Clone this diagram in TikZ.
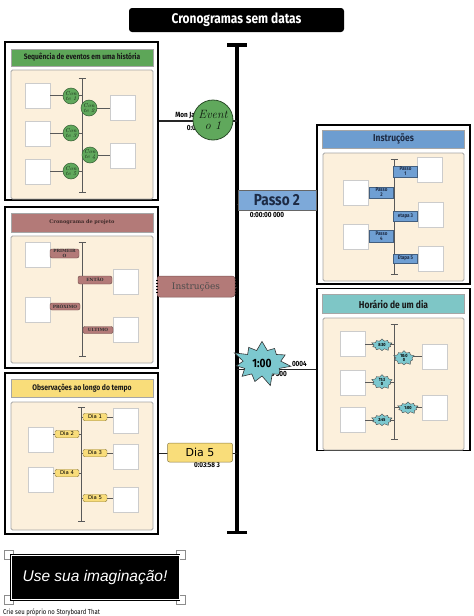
\documentclass[tikz,border=0pt]{standalone}
\usepackage{fontspec}
\newfontfamily\headfont[FakeStretch=0.85]{Fira Sans}
\newfontfamily\slabfont{DejaVu Serif}
\newfontfamily\dvsans{DejaVu Sans}
\newfontfamily\libsans{Liberation Sans}
\usetikzlibrary{shapes.geometric, shapes.symbols, arrows.meta, positioning}
\definecolor{grnh}{HTML}{5DA658}
\definecolor{grn}{HTML}{60A85C}
\definecolor{creme}{HTML}{FCF0DC}
\definecolor{mauve}{HTML}{B37A78}
\definecolor{yel}{HTML}{F9DD7A}
\definecolor{bluh}{HTML}{6D9DD0}
\definecolor{blu}{HTML}{6F9FD3}
\definecolor{blu2}{HTML}{7DA9D9}
\definecolor{tealh}{HTML}{7EC6C6}
\definecolor{tea}{HTML}{7CC8CF}
\definecolor{navy}{HTML}{1D2B45}
\tikzstyle{headline} = [rectangle, rounded corners=3pt, fill=black, minimum width=215pt, minimum height=24pt, text=white, font=\headfont\bfseries\fontsize{14}{14}\selectfont]
\tikzstyle{panel} = [rectangle, draw=black, line width=1.2pt, fill=white, minimum width=153pt, inner sep=0pt]
\tikzstyle{header} = [rectangle, draw=black!35, line width=0.6pt, minimum width=142pt, inner sep=0pt, text=black!90]
\tikzstyle{cream} = [rectangle, rounded corners=1.5pt, draw=black!35, fill=creme, line width=0.8pt, minimum width=142pt, inner sep=0pt]
\tikzstyle{photo} = [rectangle, draw=black!20, fill=white, line width=0.8pt, minimum width=25pt, minimum height=25pt, inner sep=0pt]
\tikzstyle{tline} = [line width=0.8pt, draw=black!65, arrows={Bar[width=7pt]-Bar[width=7pt]}]
\tikzstyle{spoke} = [line width=0.8pt, draw=black!65]
\tikzstyle{conte} = [circle, fill=grn, draw=grn!55!black, line width=0.5pt, minimum size=16pt, inner sep=0pt, align=center, text=grn!20!black, font=\itshape\fontsize{5.5}{5}\selectfont]
\tikzstyle{stage} = [rectangle, rounded corners=2pt, fill=mauve, draw=mauve!60!black, line width=0.4pt, inner sep=0.5pt, align=center, text=black!80, font=\slabfont\bfseries\fontsize{4.3}{4.3}\selectfont]
\tikzstyle{daytag} = [rectangle, rounded corners=1.5pt, fill=yel, draw=yel!60!black, line width=0.4pt, minimum width=24pt, minimum height=7.5pt, inner sep=0pt, font=\dvsans\fontsize{5.3}{5.3}\selectfont]
\tikzstyle{steptag} = [rectangle, fill=blu, draw=blu!60!black, line width=0.4pt, minimum width=24pt, inner sep=0.3pt, align=center, text=navy, font=\headfont\bfseries\fontsize{5.3}{5}\selectfont]
\tikzstyle{hourburst} = [starburst, starburst points=10, starburst point height=3pt, fill=tea, draw=black!70, line width=0.4pt, minimum width=22pt, minimum height=14pt, inner sep=0pt, align=center, font=\headfont\bfseries\fontsize{4.5}{4.2}\selectfont]
\tikzstyle{axisline} = [line width=3.5pt, arrows={Bar[width=20pt]-Bar[width=20pt]}]
\tikzstyle{link} = [line width=1.2pt, draw=black!85]
\tikzstyle{stamp} = [inner sep=0pt, font=\headfont\bfseries\fontsize{7.5}{7.5}\selectfont]
\tikzstyle{event} = [circle, fill=grn, draw=grn!45!black, line width=0.8pt, minimum size=40pt, inner sep=0pt, align=center, text=grn!15!black, font=\itshape\fontsize{12}{11}\selectfont]
\tikzstyle{scroll} = [rectangle, rounded corners=3pt, fill=mauve, draw=mauve!70!black, line width=0.5pt, minimum width=78pt, minimum height=21pt, text=black!70, font=\slabfont\fontsize{9}{9}\selectfont]
\tikzstyle{banner} = [rectangle, rounded corners=2pt, fill=yel, draw=yel!55!black, line width=0.5pt, minimum width=65pt, minimum height=19pt, font=\dvsans\fontsize{11}{11}\selectfont]
\tikzstyle{stepbox} = [rectangle, fill=blu2, draw=black!60, line width=0.6pt, minimum width=78pt, minimum height=20pt, inner sep=0pt, text=navy, font=\headfont\bfseries\fontsize{16}{16}\selectfont]
\tikzstyle{bigburst} = [starburst, starburst points=11, starburst point height=12pt, fill=tea, draw=black!80, line width=0.6pt, minimum width=62pt, minimum height=50pt, inner sep=0pt, font=\headfont\bfseries\fontsize{12}{12}\selectfont]
\tikzstyle{imagine} = [rectangle, fill=black, draw=black, line width=0.7pt, double=white, double distance=1pt, minimum width=168pt, minimum height=44pt, text=white, font=\libsans\itshape\fontsize{15.5}{15.5}\selectfont]
\tikzstyle{cornerbox} = [rectangle, fill=white, draw=black!45, line width=1.5pt, minimum size=9pt, inner sep=0pt]

\begin{document}
\begin{tikzpicture}[x=1pt,y=-1pt]
      \useasboundingbox (0,0) rectangle (474,616);
      \node (ti) [headline] at (236.5,20) {Cronogramas sem datas};
      \coordinate (atop) at (237,43);
      \coordinate (abot) at (237,534);

      \node (p1) [panel, minimum height=158pt] at (81.5,121) {};
      \node (h1) [header, fill=grnh, minimum height=17pt, font=\headfont\bfseries\fontsize{7.8}{7.8}\selectfont] at (82,57.5) {Sequência de eventos em uma história};
      \node (c1) [cream, minimum height=129pt] at (82,134.5) {};
      \coordinate (t1a) at (82,78);
      \coordinate (t1b) at (82,193);
      \draw [tline] (t1a) -- (t1b);
      \node (b11) [photo] at (37.5,95.5) {};
      \node (b12) [photo] at (37.5,133.5) {};
      \node (b13) [photo] at (37.5,171.5) {};
      \node (b14) [photo] at (122.5,108) {};
      \node (b15) [photo] at (122.5,155.5) {};
      \draw [spoke] (b11.east) -- (b11.east -| t1a);
      \draw [spoke] (b12.east) -- (b12.east -| t1a);
      \draw [spoke] (b13.east) -- (b13.east -| t1a);
      \draw [spoke] (b14.west) -- (b14.west -| t1a);
      \draw [spoke] (b15.west) -- (b15.west -| t1a);
      \node (e1) [conte] at (71,96) {Con\\te 1};
      \node (e2) [conte] at (89,108) {Con\\te 2};
      \node (e3) [conte] at (71,133) {Con\\te 3};
      \node (e4) [conte] at (90,155) {Con\\te 4};
      \node (e5) [conte] at (71,171) {Con\\te 5};

      \node (p2) [panel, minimum height=161pt] at (81.5,287.5) {};
      \node (h2) [header, fill=mauve, minimum height=19pt, text=mauve!35!black, font=\slabfont\bfseries\fontsize{5}{5}\selectfont] at (82,222.5) {Cronograma de projeto};
      \node (c2) [cream, minimum height=127pt] at (82,299.5) {};
      \coordinate (t2a) at (82,242);
      \coordinate (t2b) at (82,357);
      \draw [tline] (t2a) -- (t2b);
      \node (b21) [photo] at (37.5,254.5) {};
      \node (b22) [photo] at (37.5,309.5) {};
      \node (b23) [photo] at (125.5,281.5) {};
      \node (b24) [photo] at (125.5,330) {};
      \node (g1) [stage, minimum width=29pt, minimum height=9pt] at (64.5,253.5) {PRIMEIR\\O};
      \node (g2) [stage, minimum width=34pt, minimum height=8pt] at (95,280) {ENTÃO};
      \node (g3) [stage, minimum width=30pt, minimum height=7pt] at (65,306.5) {PRÓXIMO};
      \node (g4) [stage, minimum width=30pt, minimum height=7pt] at (98,330) {ULTIMO};

      \node (p3) [panel, minimum height=161pt] at (81.5,453.5) {};
      \node (h3) [header, fill=yel, minimum height=18pt, font=\headfont\bfseries\fontsize{8}{8}\selectfont] at (82,388) {Observações ao longo do tempo};
      \node (c3) [cream, minimum height=128pt] at (82,466) {};
      \coordinate (t3a) at (81,407);
      \coordinate (t3b) at (81,522);
      \draw [tline] (t3a) -- (t3b);
      \node (b31) [photo] at (40.5,440) {};
      \node (b32) [photo] at (40.5,479.5) {};
      \node (b33) [photo] at (125.5,420.5) {};
      \node (b34) [photo] at (125.5,456.5) {};
      \node (b35) [photo] at (125.5,500) {};
      \node (d1) [daytag] at (95,417) {Dia 1};
      \node (d2) [daytag] at (67,434) {Dia 2};
      \node (d3) [daytag] at (95,453) {Dia 3};
      \node (d4) [daytag] at (67,473) {Dia 4};
      \node (d5) [daytag] at (95,498) {Dia 5};
      \draw [spoke] (d1.east) -- (d1.east -| b33.west);
      \draw [spoke] (d1.west) -- (d1.west -| t3a);
      \draw [spoke] (d2.west) -- (d2.west -| b31.east);
      \draw [spoke] (d2.east) -- (d2.east -| t3a);
      \draw [spoke] (d3.east) -- (d3.east -| b34.west);
      \draw [spoke] (d3.west) -- (d3.west -| t3a);
      \draw [spoke] (d4.west) -- (d4.west -| b32.east);
      \draw [spoke] (d4.east) -- (d4.east -| t3a);
      \draw [spoke] (d5.east) -- (d5.east -| b35.west);
      \draw [spoke] (d5.west) -- (d5.west -| t3a);

      \node (p4) [panel, minimum height=159pt] at (393.5,204.5) {};
      \node (h4) [header, fill=bluh, minimum height=18pt, text=navy, font=\headfont\bfseries\fontsize{10}{10}\selectfont] at (393.5,139) {Instruções};
      \node (c4) [cream, minimum height=128pt, minimum width=141pt] at (393.5,217) {};
      \coordinate (t4a) at (394,159);
      \coordinate (t4b) at (394,275);
      \draw [tline] (t4a) -- (t4b);
      \node (b41) [photo] at (429.5,170) {};
      \node (b42) [photo] at (430.5,215) {};
      \node (b43) [photo] at (430.5,258.5) {};
      \node (b44) [photo] at (355.5,193) {};
      \node (b45) [photo] at (355.5,237) {};
      \node (q1) [steptag, minimum height=11pt] at (405.5,171.5) {Passo\\1};
      \node (q2) [steptag, minimum height=11pt] at (381.5,192.5) {Passo\\2};
      \node (q3) [steptag, minimum height=10pt] at (405.5,216) {etapa 3};
      \node (q4) [steptag, minimum height=12pt] at (381.5,236) {Passo\\4};
      \node (q5) [steptag, minimum height=9pt] at (405.5,258.5) {Etapa 5};

      \node (p5) [panel, minimum height=162pt] at (393.5,369.5) {};
      \node (h5) [header, fill=tealh, minimum height=19pt, font=\headfont\bfseries\fontsize{10}{10}\selectfont] at (393.5,304) {Horário de um dia};
      \node (c5) [cream, minimum height=132pt, minimum width=141pt] at (393.5,384) {};
      \coordinate (t5a) at (394,324);
      \coordinate (t5b) at (394,440);
      \draw [tline] (t5a) -- (t5b);
      \node (b51) [photo] at (352.5,344) {};
      \node (b52) [photo] at (352.5,382.5) {};
      \node (b53) [photo] at (352.5,420) {};
      \node (b54) [photo] at (434.5,356.5) {};
      \node (b55) [photo] at (434.5,407.5) {};
      \draw [spoke] (b51.east) -- (b51.east -| t5a);
      \draw [spoke] (b52.east) -- (b52.east -| t5a);
      \draw [spoke] (b53.east) -- (b53.east -| t5a);
      \draw [spoke] (b54.west) -- (b54.west -| t5a);
      \draw [spoke] (b55.west) -- (b55.west -| t5a);
      \node (s1) [hourburst] at (382,345) {8:30};
      \node (s2) [hourburst] at (404,358) {10:0\\0};
      \node (s3) [hourburst] at (382,382) {11:3\\0};
      \node (s4) [hourburst] at (408,408) {1:00};
      \node (s5) [hourburst] at (382,420) {2:45};

      \draw [axisline] (atop) -- (abot);
      \draw [link] (p1.east) -- (p1.east -| atop);
      \draw [link] (p2.east) -- (p2.east -| atop);
      \draw [link] (p3.east) -- (p3.east -| atop);
      \draw [link] (p4.west) -- (p4.west -| atop);
      \draw [link] (p5.west) -- (p5.west -| atop);

      \node (m1) [stamp, anchor=east] at (195,116) {Mon Ja};
      \node (m2) [stamp, anchor=east] at (196,128) {0:0};
      \node (ev) [event] at (213,120) {Event\\o 1};
      \node (ins) [scroll] at (196,286.5) {Instruções};
      \draw [line width=1.5pt, dash pattern=on 1.5pt off 1.5pt] ([yshift=-4pt]ins.north west) -- ([yshift=4pt]ins.south west);
      \draw [line width=1.5pt, dash pattern=on 1.5pt off 1.5pt] ([yshift=-4pt]ins.north east) -- ([yshift=4pt]ins.south east);
      \node (m3) [stamp] at (207,464.5) {0:03:58 3};
      \node (dia) [banner] at (200,452.5) {Dia 5};
      \node (m4) [stamp] at (267,214.5) {0:00:00 000};
      \node (ps) [stepbox] at (277,200) {Passo 2};
      \node (m5) [stamp, anchor=east] at (307,364) {0004};
      \node (m6) [stamp, anchor=east] at (287,374) {0:00:00 300};
      \node (hr) [bigburst] at (262,363) {1:00};

      \node (k1) [cornerbox] at (9,555) {};
      \node (k2) [cornerbox] at (181,555) {};
      \node (k3) [cornerbox] at (9,600) {};
      \node (k4) [cornerbox] at (181,600) {};
      \node (ub) [imagine] at (95,577.5) {Use sua imaginação!};
      \node (ft) [anchor=west, inner sep=0pt, font=\headfont\fontsize{7}{7}\selectfont] at (3,612) {Crie seu próprio no Storyboard That};
    \end{tikzpicture}
\end{document}
